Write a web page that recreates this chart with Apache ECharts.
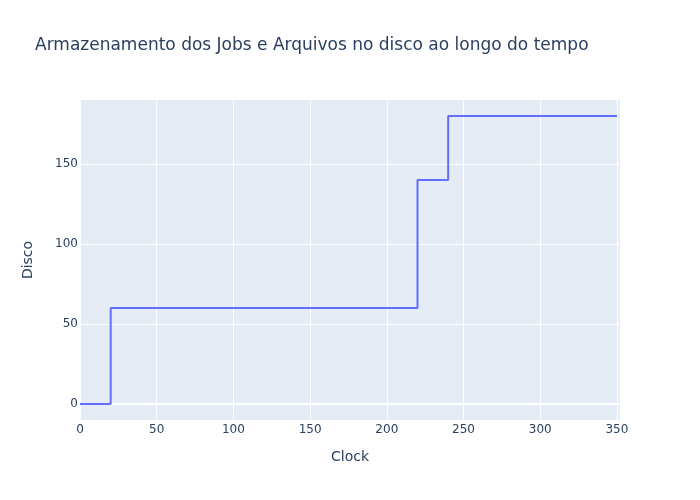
<!DOCTYPE html>
<html><head><meta charset="utf-8">
<script src="https://cdn.jsdelivr.net/npm/echarts@6/dist/echarts.min.js"></script>
<style>html,body{margin:0;padding:0;background:#fff}#c{width:700px;height:500px}</style>
</head><body><div id="c"></div>
<script>
const clock = [0, 20, 220, 240, 350];
const disco = [0, 60, 140, 180, 180];
const yTicks = [0, 50, 100, 150];
const xTicks = [0, 50, 100, 150, 200, 250, 300, 350];

const chart = echarts.init(document.getElementById('c'), null, {renderer: 'canvas'});
const font = '"DejaVu Sans", verdana, arial, sans-serif';
chart.setOption({
  animation: false,
  backgroundColor: '#fff',
  title: {
    text: 'Armazenamento dos Jobs e Arquivos no disco ao longo do tempo',
    left: 30, top: 32,
    textStyle: {fontFamily: font, fontSize: 17, fontWeight: 'normal', color: '#2a3f5f'}
  },
  grid: {left: 80, top: 100, width: 540, height: 320, backgroundColor: '#e5ecf6', show: true, borderWidth: 0},
  xAxis: {
    type: 'value', min: 0, max: 352,
    name: 'Clock', nameLocation: 'middle', nameGap: 30,
    nameTextStyle: {fontFamily: font, fontSize: 14, color: '#2a3f5f'},
    axisLine: {show: false}, axisTick: {show: false, customValues: xTicks},
    axisLabel: {customValues: xTicks, fontFamily: font, fontSize: 12, color: '#2a3f5f', margin: 4},
    splitLine: {show: true, lineStyle: {color: '#fff', width: 1}}
  },
  yAxis: {
    type: 'value', min: -10, max: 190,
    name: 'Disco', nameLocation: 'middle', nameGap: 45,
    nameTextStyle: {fontFamily: font, fontSize: 14, color: '#2a3f5f'},
    axisLine: {show: false}, axisTick: {show: false, customValues: yTicks},
    axisLabel: {customValues: yTicks, fontFamily: font, fontSize: 12, color: '#2a3f5f', margin: 2},
    splitLine: {show: true, lineStyle: {color: '#fff', width: 1}}
  },
  series: [{
    type: 'line', data: [], z: 1, silent: true,
    markLine: {silent: true, symbol: 'none', label: {show: false},
      lineStyle: {color: '#fff', width: 2, type: 'solid'},
      data: [{yAxis: 0}, {xAxis: 0}]}
  }, {
    type: 'line', step: 'end', showSymbol: false, zlevel: 1,
    data: clock.map((x, i) => [x, disco[i]]),
    lineStyle: {color: '#636efa', width: 2}
  }]
});
</script></body></html>
